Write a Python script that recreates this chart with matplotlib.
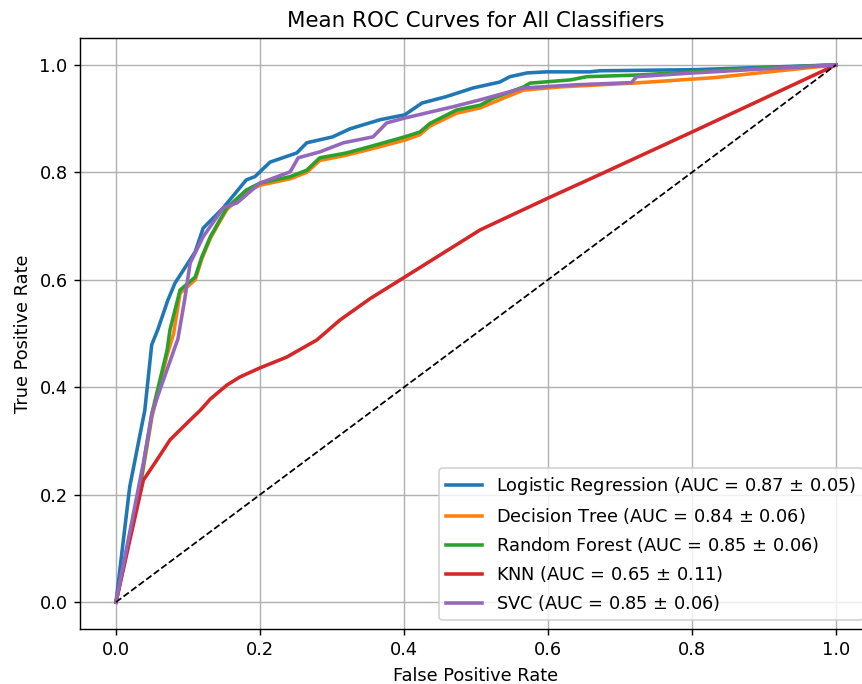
import numpy as np
import matplotlib.pyplot as plt

# mean ROC curves (fpr, tpr)
lr_fpr = [0, 0.019, 0.031, 0.040, 0.0496, 0.058, 0.072, 0.082, 0.110, 0.121, 0.149, 0.181, 0.193, 0.214, 0.251,
          0.265, 0.301, 0.325, 0.367, 0.401, 0.425, 0.459, 0.496, 0.533, 0.547, 0.571, 0.598, 0.658, 0.672, 0.802, 1.0]
lr_tpr = [0, 0.214, 0.296, 0.357, 0.479, 0.507, 0.562, 0.594, 0.652, 0.696, 0.734, 0.786, 0.792, 0.819, 0.836,
          0.855, 0.866, 0.881, 0.898, 0.907, 0.929, 0.941, 0.957, 0.968, 0.978, 0.985, 0.987, 0.987, 0.989, 0.991, 1.0]

dt_fpr = [0, 0.033, 0.050, 0.071, 0.080, 0.089, 0.110, 0.119, 0.131, 0.144, 0.154, 0.181, 0.200, 0.242, 0.265,
          0.283, 0.320, 0.353, 0.401, 0.422, 0.436, 0.473, 0.506, 0.538, 0.566, 0.617, 0.718, 0.829, 1.0]
dt_tpr = [0, 0.21, 0.345, 0.46, 0.50, 0.575, 0.60, 0.638, 0.677, 0.708, 0.731, 0.764, 0.776, 0.788, 0.800,
          0.822, 0.832, 0.843, 0.860, 0.870, 0.886, 0.910, 0.920, 0.938, 0.953, 0.959, 0.966, 0.976, 1.0]

rf_fpr = [0, 0.033, 0.050, 0.071, 0.075, 0.089, 0.110, 0.119, 0.131, 0.144, 0.154, 0.181, 0.200, 0.242, 0.265,
          0.283, 0.320, 0.353, 0.401, 0.422, 0.436, 0.473, 0.506, 0.524, 0.566, 0.575, 0.631, 0.654, 0.723, 0.894, 1.0]
rf_tpr = [0, 0.214, 0.352, 0.469, 0.507, 0.581, 0.605, 0.642, 0.680, 0.711, 0.734, 0.767, 0.780, 0.792, 0.804,
          0.827, 0.836, 0.848, 0.866, 0.875, 0.891, 0.916, 0.925, 0.938, 0.959, 0.966, 0.972, 0.978, 0.981, 0.994, 1.0]

knn_fpr = [0, 0.02, 0.038, 0.0565, 0.075, 0.103, 0.117, 0.131, 0.154, 0.172, 0.200, 0.237, 0.279, 0.311, 0.353,
           0.401, 0.506, 0.600, 0.677, 0.800, 1.0]
knn_tpr = [0, 0.12, 0.227, 0.264, 0.302, 0.339, 0.357, 0.378, 0.404, 0.419, 0.436, 0.456, 0.488, 0.525, 0.565,
           0.605, 0.693, 0.752, 0.799, 0.875, 1.0]

svc_fpr = [0, 0.038, 0.050, 0.061, 0.086, 0.095, 0.103, 0.121, 0.149, 0.168, 0.200, 0.242, 0.253, 0.283, 0.316,
           0.357, 0.376, 0.401, 0.436, 0.468, 0.506, 0.566, 0.640, 0.716, 0.723, 0.802, 1.0]
svc_tpr = [0, 0.259, 0.352, 0.395, 0.49, 0.56, 0.631, 0.680, 0.734, 0.743, 0.780, 0.801, 0.827, 0.838, 0.855,
           0.866, 0.892, 0.901, 0.912, 0.922, 0.935, 0.957, 0.963, 0.967, 0.978, 0.985, 1.0]

names = ['Logistic Regression', 'Decision Tree', 'Random Forest', 'KNN', 'SVC']
auc_mean = [0.87, 0.84, 0.85, 0.65, 0.85]
auc_std = [0.05, 0.06, 0.06, 0.11, 0.06]
curves = [(lr_fpr, lr_tpr), (dt_fpr, dt_tpr), (rf_fpr, rf_tpr), (knn_fpr, knn_tpr), (svc_fpr, svc_tpr)]

dpi = 128
fig = plt.figure(figsize=(862 / dpi, 684 / dpi), dpi=dpi)
ax = fig.add_axes([80 / 862, 55 / 684, 792 / 862, 591 / 684])

for name, (fpr, tpr), m, s in zip(names, curves, auc_mean, auc_std):
    ax.plot(fpr, tpr, lw=2, label=f'{name} (AUC = {m:.2f} $\\pm$ {s:.2f})')
ax.plot([0, 1], [0, 1], 'k--', lw=1)

ax.set_xlabel('False Positive Rate')
ax.set_ylabel('True Positive Rate')
ax.set_title('Mean ROC Curves for All Classifiers')
ax.legend(loc='lower right')
ax.grid(True)

fig.savefig('out.png', dpi=dpi)
